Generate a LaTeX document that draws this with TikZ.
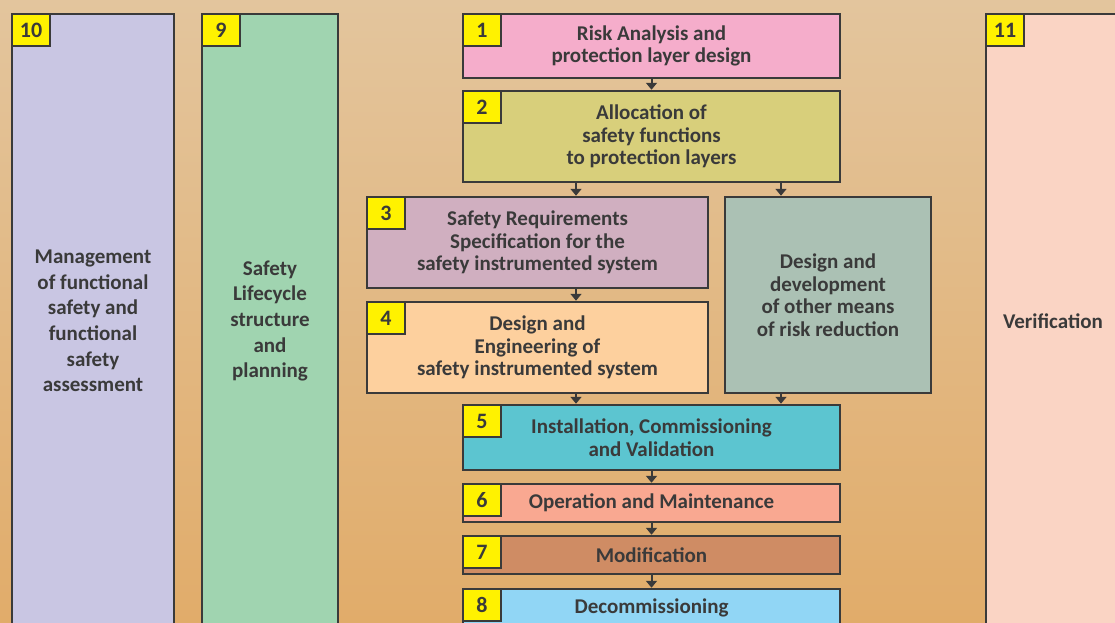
\documentclass[tikz,border=0pt]{standalone}
\usepackage{fontspec}
\setmainfont{Carlito}
\usetikzlibrary{arrows.meta}
\definecolor{bgtop}{HTML}{E3C59D}
\definecolor{bgbot}{HTML}{E1AC6A}
\definecolor{ink}{HTML}{3A3A3A}
\definecolor{c1}{HTML}{F5ADCB}
\definecolor{c2}{HTML}{D8CF7B}
\definecolor{c3}{HTML}{D0AFC0}
\definecolor{c4}{HTML}{FDD09E}
\definecolor{c5}{HTML}{5CC5D0}
\definecolor{c6}{HTML}{F9A891}
\definecolor{c7}{HTML}{CF8C64}
\definecolor{c8}{HTML}{91D6F5}
\definecolor{c9}{HTML}{A0D4B0}
\definecolor{c10}{HTML}{C9C6E3}
\definecolor{c11}{HTML}{FAD4C4}
\definecolor{co}{HTML}{ABC1B4}
\definecolor{tag}{HTML}{FFF200}
\tikzset{
  stage/.style={draw=ink, line width=2.5pt, inner sep=0pt, align=center,
    text=ink, font=\fontsize{21}{22.5}\selectfont\bfseries},
  side/.style={stage, font=\fontsize{21}{25.7}\selectfont\bfseries},
  tagbox/.style={draw=ink, line width=2.5pt, fill=tag, inner sep=0pt,
    minimum width=38pt, minimum height=32pt, anchor=north west,
    text=ink, font=\fontsize{22}{24}\selectfont\bfseries},
  arr/.style={draw=ink, line width=2pt, -{Triangle[width=11pt,length=7pt]}}
}
\begin{document}
\begin{tikzpicture}[x=1pt,y=-1pt]
\useasboundingbox (0,0) rectangle (1115,622);
\begin{scope}
\clip (0,0) rectangle (1115,622);
\shade[top color=bgtop, bottom color=bgbot] (0,0) rectangle (1115,622);

% side columns
\node[side, fill=c10, minimum width=162pt, minimum height=614pt] (b10) at (93,321)
  {Management\\of functional\\safety and\\functional\\safety\\assessment};
\node[side, fill=c9, minimum width=136pt, minimum height=614pt] (b9) at (270,321)
  {Safety\\Lifecycle\\structure\\and\\planning};
\node[side, fill=c11, minimum width=134pt, minimum height=614pt] (b11) at (1053,321)
  {Verification};

% central stages
\node[stage, fill=c1, minimum width=377pt, minimum height=64pt] (b1) at (651.5,46)
  {Risk Analysis and\\protection layer design};
\node[stage, fill=c2, minimum width=377pt, minimum height=91pt] (b2) at (651.5,136.5)
  {Allocation of\\safety functions\\to protection layers};
\node[stage, fill=c3, minimum width=341pt, minimum height=91pt] (b3) at (537.5,242.5)
  {Safety Requirements\\Specification for the\\safety instrumented system};
\node[stage, fill=co, minimum width=206pt, minimum height=196pt] (bo) at (828,295)
  {Design and\\development\\of other means\\of risk reduction};
\node[stage, fill=c4, minimum width=341pt, minimum height=91pt] (b4) at (537.5,347.5)
  {Design and\\Engineering of\\safety instrumented system};
\node[stage, fill=c5, minimum width=377pt, minimum height=65pt] (b5) at (651.5,437.5)
  {Installation, Commissioning\\and Validation};
\node[stage, fill=c6, minimum width=377pt, minimum height=38pt] (b6) at (651.5,503)
  {Operation and Maintenance};
\node[stage, fill=c7, minimum width=377pt, minimum height=38pt] (b7) at (651.5,555)
  {Modification};
\node[stage, fill=c8, minimum width=377pt, minimum height=38pt] (b8) at (651.5,608)
  {Decommissioning};

% number tags
\node[tagbox] (t10) at (b10.north west) {10};
\node[tagbox] (t9) at (b9.north west) {9};
\node[tagbox] (t11) at (b11.north west) {11};
\node[tagbox] (t1) at (b1.north west) {1};
\node[tagbox] (t2) at (b2.north west) {2};
\node[tagbox] (t3) at (b3.north west) {3};
\node[tagbox] (t4) at (b4.north west) {4};
\node[tagbox] (t5) at (b5.north west) {5};
\node[tagbox] (t6) at (b6.north west) {6};
\node[tagbox] (t7) at (b7.north west) {7};
\node[tagbox] (t8) at (b8.north west) {8};

% connectors
\coordinate (colA) at (576,0);
\coordinate (colB) at (781,0);
\draw[arr] (b1.south) -- (b2.north);
\draw[arr] (b2.south -| colA) -- (b3.north -| colA);
\draw[arr] (b2.south -| colB) -- (bo.north -| colB);
\draw[arr] (b3.south -| colA) -- (b4.north -| colA);
\draw[arr] (b4.south -| colA) -- (b5.north -| colA);
\draw[arr] (bo.south -| colB) -- (b5.north -| colB);
\draw[arr] (b5.south) -- (b6.north);
\draw[arr] (b6.south) -- (b7.north);
\draw[arr] (b7.south) -- (b8.north);
\end{scope}
\end{tikzpicture}
\end{document}
